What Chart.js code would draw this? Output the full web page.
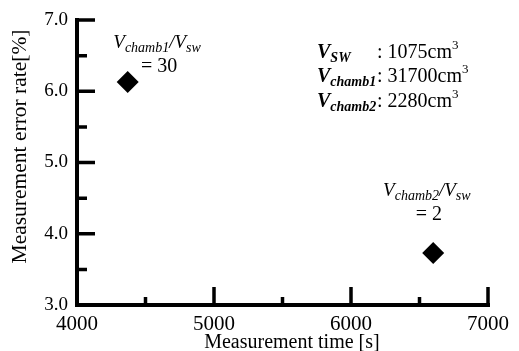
<!DOCTYPE html>
<html>
<head>
<meta charset="utf-8">
<script src="https://cdn.jsdelivr.net/npm/chart.js@4"></script>
<style>
  html, body { margin: 0; padding: 0; background: #fff; }
  #wrap { width: 519px; height: 351px; }
</style>
</head>
<body>
<div id="wrap"><canvas id="errChart" width="519" height="351"></canvas></div>
<script>
// Datos
const measTime = [4370, 6600];          // s
const errorRate = [6.13, 3.73];         // %
const xMajorTicks = [5000, 6000, 7000];
const xMinorTicks = [4500, 5500, 6500];
const yMajorTicks = [4, 5, 6, 7];
const yMinorTicks = [3.5, 4.5, 5.5, 6.5];

// Textos de las anotaciones
const ratioNames = ['chamb1', 'chamb2'];
const ratioValues = ['= 30', '= 2'];
const ratioAnchors = [[4265, 6.61], [6234, 4.53]];
const volNames = ['SW', 'chamb1', 'chamb2'];
const volValues = [': 1075cm', ': 31700cm', ': 2280cm'];
const xTitle = 'Measurement time [s]';
const yTitle = 'Measurement error rate[%]';

const SERIF = '"Liberation Serif", "Times New Roman", serif';

function drawRuns(c, x, y, runs) {
    runs.forEach(r => {
        c.font = r.font;
        c.fillText(r.t, x, y + (r.dy || 0));
        x += c.measureText(r.t).width;
    });
    return x;
}

// Ejes con marcas hacia dentro + anotaciones
const axesPlugin = {
    id: 'axesPlugin',
    afterDatasetsDraw(chart) {
        const c = chart.ctx;
        const xs = chart.scales.x, ys = chart.scales.y;
        const L = xs.left, R = xs.right, T = ys.top, B = ys.bottom;
        c.save();
        c.strokeStyle = '#000';
        c.fillStyle = '#000';
        c.lineCap = 'butt';

        // líneas de los ejes
        c.lineWidth = 4;
        c.beginPath();
        c.moveTo(L, T - 2);
        c.lineTo(L, B);
        c.lineTo(R + 2, B);
        c.stroke();

        c.lineWidth = 3.5;
        c.beginPath();
        xMajorTicks.forEach(v => { const p = xs.getPixelForValue(v); c.moveTo(p, B); c.lineTo(p, B - 18); });
        xMinorTicks.forEach(v => { const p = xs.getPixelForValue(v); c.moveTo(p, B); c.lineTo(p, B - 8); });
        yMajorTicks.forEach(v => { const p = ys.getPixelForValue(v); c.moveTo(L, p); c.lineTo(L + 18, p); });
        yMinorTicks.forEach(v => { const p = ys.getPixelForValue(v); c.moveTo(L, p); c.lineTo(L + 10, p); });
        c.stroke();

        // títulos de los ejes
        c.textAlign = 'center';
        c.textBaseline = 'middle';
        c.font = '20px ' + SERIF;
        c.fillText(xTitle, xs.getPixelForValue(5569), 343);
        c.save();
        c.font = '21.5px ' + SERIF;
        c.translate(20, ys.getPixelForValue(5.225));
        c.rotate(-Math.PI / 2);
        c.fillText(yTitle, 0, 0);
        c.restore();

        // relaciones de volumen
        c.textBaseline = 'alphabetic';
        c.textAlign = 'left';
        const it = 'italic 19px ' + SERIF, sub = 'italic 14px ' + SERIF, rm = '20px ' + SERIF;
        ratioNames.forEach((n, i) => {
            const ax = xs.getPixelForValue(ratioAnchors[i][0]);
            const ay = ys.getPixelForValue(ratioAnchors[i][1]);
            const end = drawRuns(c, ax, ay, [
                {t: 'V', font: it}, {t: n, font: sub, dy: 4}, {t: '/', font: it},
                {t: 'V', font: it}, {t: 'sw', font: sub, dy: 4}
            ]);
            c.font = rm;
            c.textAlign = 'center';
            c.fillText(ratioValues[i], (ax + end) / 2 + 2, ay + 24);
            c.textAlign = 'left';
        });

        // tabla de volúmenes
        const bi = 'bold italic 20px ' + SERIF, bsub = 'bold italic 14px ' + SERIF;
        const lx = xs.getPixelForValue(5752), colonX = xs.getPixelForValue(6190);
        volNames.forEach((n, i) => {
            const by = ys.getPixelForValue(6.47 - i * 0.345);
            drawRuns(c, lx, by, [{t: 'V', font: bi}, {t: n, font: bsub, dy: 4}]);
            drawRuns(c, colonX, by, [{t: volValues[i], font: rm}, {t: '3', font: '13px ' + SERIF, dy: -9}]);
        });
        c.restore();
    }
};

const config = {
    type: 'scatter',
    data: {
        datasets: [{
            data: measTime.map((t, i) => ({x: t, y: errorRate[i]})),
            pointStyle: 'rectRot',
            pointRadius: 11,
            pointHoverRadius: 11,
            backgroundColor: '#000',
            borderColor: '#000',
            borderWidth: 0,
            clip: false
        }]
    },
    options: {
        responsive: false,
        animation: false,
        events: [],
        layout: { padding: { top: 20, right: 31, bottom: 0, left: 0 } },
        plugins: { legend: { display: false }, tooltip: { enabled: false } },
        scales: {
            x: {
                type: 'linear',
                min: 4000, max: 7000,
                afterFit(s) { s.height = 46; },
                grid: { display: false, drawTicks: false },
                border: { display: false },
                ticks: {
                    stepSize: 1000, padding: 9, color: '#000', maxRotation: 0,
                    callback: v => String(v),
                    font: { family: SERIF, size: 21, lineHeight: 1 }
                },
                title: { display: false }
            },
            y: {
                min: 3, max: 7,
                afterFit(s) { s.width = 77; },
                grid: { display: false, drawTicks: false },
                border: { display: false },
                ticks: {
                    stepSize: 1, padding: 9, color: '#000',
                    callback: v => v.toFixed(1),
                    font: { family: SERIF, size: 19, lineHeight: 1 }
                },
                title: { display: false }
            }
        }
    },
    plugins: [axesPlugin]
};

const errChart = new Chart(document.getElementById('errChart').getContext('2d'), config);
</script>
</body>
</html>
